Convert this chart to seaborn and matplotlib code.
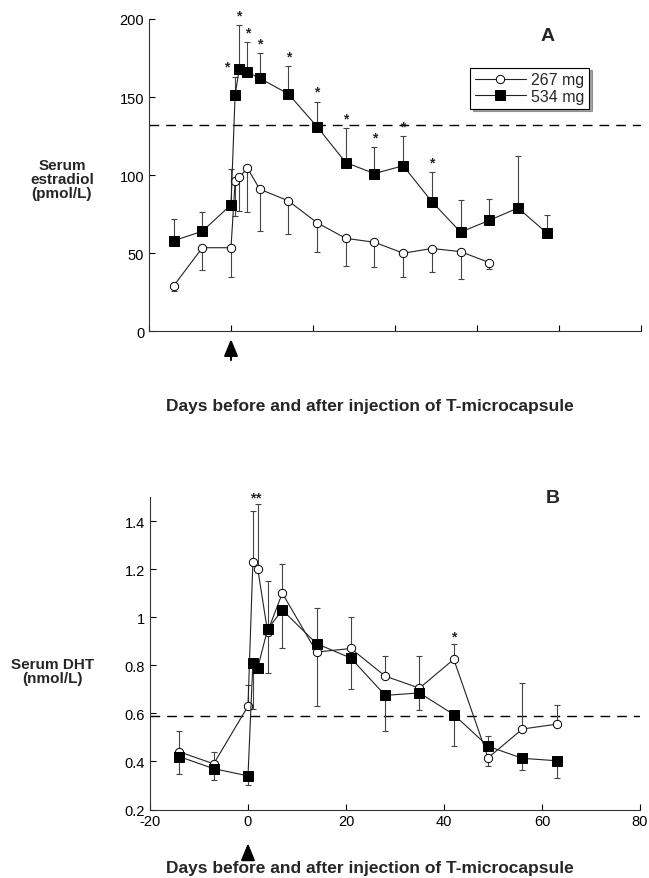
import numpy as np
import pandas as pd
import matplotlib
matplotlib.use("Agg")
import matplotlib.pyplot as plt
import seaborn as sns

# ---- panel A: serum estradiol (pmol/L) ----
days_a_267 = [-14, -7, 0, 1, 2, 4, 7, 14, 21, 28, 35, 42, 49, 56, 63]
e2_267 = [29, 53.5, 53.5, 96, 98.5, 104.5, 91, 83.5, 69.5, 59.5, 57, 50, 53, 51, 44]
e2_267_lo = [26, 39, 34.5, 74, 77, 76.5, 64, 62, 51, 42, 41, 35, 38, 33.5, 40]

days_a_534 = [-14, -7, 0, 1, 2, 4, 7, 14, 21, 28, 35, 42, 49, 56, 63, 70, 77]
e2_534 = [58, 64, 81, 151, 168, 166, 162, 152, 131, 108, 101, 106, 83, 63.5, 71, 79, 63]
e2_534_hi = [72, 76.5, 104, 163, 196, 185, 178, 170, 147, 130, 118, 125, 102, 84, 85, 112, 74.5]
stars_a = [1, 2, 4, 7, 14, 21, 28, 35, 42, 49]

# ---- panel B: serum DHT (nmol/L) ----
days_b = [-14, -7, 0, 1, 2, 4, 7, 14, 21, 28, 35, 42, 49, 56, 63]
dht_267 = [0.44, 0.39, 0.63, 1.23, 1.20, 0.94, 1.10, 0.855, 0.87, 0.755, 0.705, 0.825, 0.415, 0.535, 0.555]
dht_267_lo = [0.44, 0.39, 0.63, 1.23, 1.20, 0.77, 1.10, 0.63, 0.87, 0.755, 0.705, 0.825, 0.383, 0.535, 0.555]
dht_267_hi = [0.44, 0.44, 0.72, 1.44, 1.47, 0.94, 1.22, 0.855, 1.00, 0.84, 0.84, 0.89, 0.415, 0.725, 0.635]
dht_534 = [0.42, 0.37, 0.34, 0.81, 0.79, 0.95, 1.03, 0.89, 0.83, 0.675, 0.685, 0.595, 0.463, 0.413, 0.403]
dht_534_lo = [0.348, 0.323, 0.303, 0.62, 0.79, 0.95, 0.87, 0.89, 0.70, 0.526, 0.616, 0.466, 0.463, 0.365, 0.331]
dht_534_hi = [0.526, 0.37, 0.34, 0.81, 0.79, 1.15, 1.03, 1.04, 0.83, 0.675, 0.685, 0.595, 0.505, 0.413, 0.403]
stars_b = [1, 2, 42]

ref_a = 132
ref_b = 0.59

sns.set_style("ticks")
plt.rcParams['font.family'] = ['Liberation Sans', 'DejaVu Sans']
plt.rcParams['xtick.direction'] = 'in'
plt.rcParams['ytick.direction'] = 'in'
plt.rcParams['axes.unicode_minus'] = False

fig = plt.figure(figsize=(6.49, 8.79), dpi=100)
ax_a = fig.add_axes([0.2296, 0.6220, 0.758, 0.3553])
ax_b = fig.add_axes([0.2311, 0.0779, 0.755, 0.3555])

line_kw = dict(color='#222222', linewidth=0.8, estimator=None, sort=False)
err_kw = dict(fmt='none', ecolor='#444444', elinewidth=0.8, capsize=2, capthick=0.8)


def draw(ax, x, y, lo, hi, marker, face, label):
    df = pd.DataFrame({'day': x, 'val': y})
    y = np.array(y)
    ax.errorbar(x, y, yerr=[y - np.array(lo), np.array(hi) - y], zorder=1, **err_kw)
    sns.lineplot(data=df, x='day', y='val', ax=ax, marker=marker, markersize=7 if marker == 's' else 6,
                 markerfacecolor=face, markeredgecolor='black', markeredgewidth=0.7,
                 label=label, zorder=3, **line_kw)


def injection_arrow(ax, tip, tail):
    ax.annotate('', xy=(0, tip), xytext=(0, tail), xycoords=('data', 'axes fraction'),
                textcoords=('data', 'axes fraction'), annotation_clip=False,
                arrowprops=dict(arrowstyle='-|>,head_width=0.35,head_length=0.85',
                                color='black', lw=1.5, mutation_scale=12,
                                shrinkA=0, shrinkB=0))


# panel A
draw(ax_a, days_a_267, e2_267, e2_267_lo, e2_267, 'o', 'white', '267 mg')
draw(ax_a, days_a_534, e2_534, e2_534, e2_534_hi, 's', 'black', '534 mg')
ax_a.axhline(ref_a, color='black', linestyle=(0, (7, 5)), linewidth=1.0, zorder=0)
for d in stars_a:
    i = days_a_534.index(d)
    dx = -6 if d == 1 else 0
    ax_a.annotate('*', (d, e2_534_hi[i]), xytext=(dx, 2), textcoords='offset points',
                  ha='center', va='bottom', fontsize=10, fontweight='bold')
ax_a.set_xlim(-20, 100)
ax_a.set_ylim(0, 200)
ax_a.set_xticks(np.arange(-20, 101, 20))
ax_a.set_xticklabels([])
ax_a.set_yticks([0, 50, 100, 150, 200])
ax_a.set_xlabel('')
ax_a.set_ylabel('')
ax_a.text(0.449, -0.239, 'Days before and after injection of T-microcapsule', transform=ax_a.transAxes,
          ha='center', va='center', fontsize=12.5, fontweight='bold')
ax_a.text(-0.177, 0.488, 'Serum\nestradiol\n(pmol/L)', transform=ax_a.transAxes,
          ha='center', va='center', fontsize=11, fontweight='bold', linespacing=1.0)
ax_a.text(0.811, 0.946, 'A', transform=ax_a.transAxes, ha='center', va='center',
          fontsize=14, fontweight='bold')
leg = ax_a.legend(loc='upper left', bbox_to_anchor=(0.636, 0.87), frameon=True, fancybox=False,
                  shadow=True, edgecolor='black', fontsize=11.5, handlelength=3.2,
                  borderpad=0.3, labelspacing=0.1, handletextpad=0.3)
leg.get_frame().set_linewidth(0.8)
injection_arrow(ax_a, -0.025, -0.092)

# panel B
draw(ax_b, days_b, dht_267, dht_267_lo, dht_267_hi, 'o', 'white', '267 mg')
draw(ax_b, days_b, dht_534, dht_534_lo, dht_534_hi, 's', 'black', '534 mg')
ax_b.axhline(ref_b, color='black', linestyle=(0, (7, 5)), linewidth=1.0, zorder=0)
for d in stars_b:
    i = days_b.index(d)
    top = dht_267_hi[i]
    if d in (1, 2):
        top = max(dht_267_hi[days_b.index(1)], dht_267_hi[days_b.index(2)])
    ax_b.annotate('*', (d, top), xytext=(0, 0), textcoords='offset points',
                  ha='center', va='bottom', fontsize=10, fontweight='bold')
ax_b.set_xlim(-20, 80)
ax_b.set_ylim(0.2, 1.5)
ax_b.set_xticks(np.arange(-20, 81, 20))
ax_b.set_yticks([0.2, 0.4, 0.6, 0.8, 1.0, 1.2, 1.4])
ax_b.set_yticklabels(['0.2', '0.4', '0.6', '0.8', '1', '1.2', '1.4'])
ax_b.set_xlabel('')
ax_b.set_ylabel('')
ax_b.get_legend().remove()
ax_b.text(0.449, -0.184, 'Days before and after injection of T-microcapsule', transform=ax_b.transAxes,
          ha='center', va='center', fontsize=12.5, fontweight='bold')
ax_b.text(-0.198, 0.443, 'Serum DHT\n(nmol/L)', transform=ax_b.transAxes,
          ha='center', va='center', fontsize=11, fontweight='bold', linespacing=1.0)
ax_b.text(0.822, 1.0, 'B', transform=ax_b.transAxes, ha='center', va='center',
          fontsize=14, fontweight='bold')
injection_arrow(ax_b, -0.108, -0.158)

for ax in (ax_a, ax_b):
    sns.despine(ax=ax)
    ax.tick_params(labelsize=10.5, length=4, width=0.8, colors='black')
    for s in ('left', 'bottom'):
        ax.spines[s].set_linewidth(0.8)
        ax.spines[s].set_color('#333333')

fig.savefig('out.png', dpi=100)
